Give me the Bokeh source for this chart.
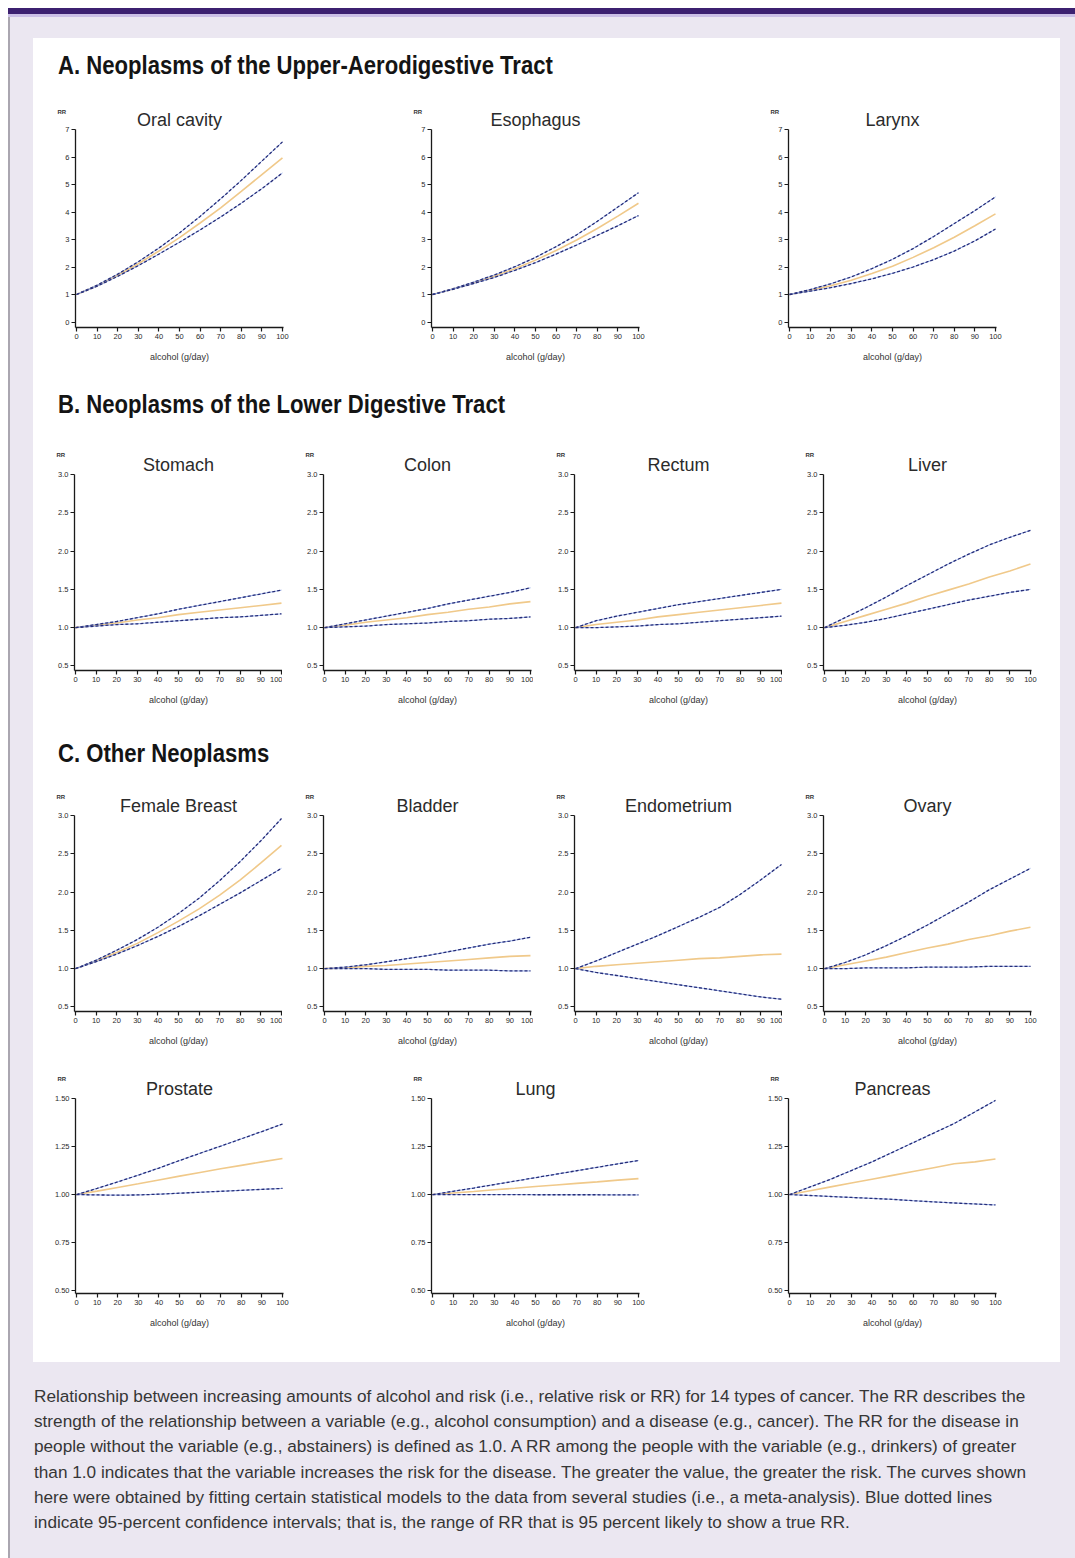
from bokeh.plotting import figure
from bokeh.models import Div, Spacer, FixedTicker, Range1d, PrintfTickFormatter, Title
from bokeh.layouts import column, row
from bokeh.embed import file_html
from bokeh.resources import INLINE

# ---------------- data ----------------
X = [0, 10, 20, 30, 40, 50, 60, 70, 80, 90, 100]
X_TICKS = [0, 10, 20, 30, 40, 50, 60, 70, 80, 90, 100]

# Upper-aerodigestive tract
oral_mid = [1.0, 1.32, 1.70, 2.12, 2.58, 3.07, 3.60, 4.15, 4.75, 5.36, 5.97]
oral_lo  = [1.0, 1.30, 1.66, 2.05, 2.47, 2.90, 3.35, 3.82, 4.32, 4.85, 5.42]
oral_hi  = [1.0, 1.34, 1.74, 2.19, 2.69, 3.24, 3.84, 4.48, 5.15, 5.85, 6.55]

eso_mid = [1.0, 1.20, 1.42, 1.66, 1.94, 2.25, 2.60, 2.98, 3.40, 3.85, 4.32]
eso_lo  = [1.0, 1.19, 1.40, 1.62, 1.88, 2.16, 2.47, 2.80, 3.15, 3.50, 3.87]
eso_hi  = [1.0, 1.21, 1.45, 1.71, 2.01, 2.35, 2.74, 3.17, 3.66, 4.18, 4.70]

lar_mid = [1.0, 1.15, 1.32, 1.52, 1.76, 2.03, 2.35, 2.70, 3.08, 3.50, 3.93]
lar_lo  = [1.0, 1.12, 1.25, 1.40, 1.57, 1.77, 2.00, 2.27, 2.58, 2.95, 3.38]
lar_hi  = [1.0, 1.18, 1.39, 1.64, 1.94, 2.28, 2.67, 3.11, 3.58, 4.05, 4.55]

# Lower digestive tract
sto_mid = [1.0, 1.03, 1.06, 1.10, 1.13, 1.17, 1.20, 1.23, 1.26, 1.29, 1.32]
sto_lo  = [1.0, 1.02, 1.04, 1.05, 1.07, 1.09, 1.11, 1.13, 1.14, 1.16, 1.18]
sto_hi  = [1.0, 1.04, 1.08, 1.13, 1.18, 1.24, 1.29, 1.34, 1.39, 1.44, 1.49]

col_mid = [1.0, 1.03, 1.07, 1.10, 1.13, 1.17, 1.20, 1.24, 1.27, 1.31, 1.34]
col_lo  = [1.0, 1.01, 1.02, 1.04, 1.05, 1.06, 1.08, 1.09, 1.11, 1.12, 1.14]
col_hi  = [1.0, 1.05, 1.10, 1.15, 1.20, 1.25, 1.31, 1.36, 1.41, 1.46, 1.52]

rec_mid = [1.0, 1.04, 1.07, 1.10, 1.14, 1.17, 1.20, 1.23, 1.26, 1.29, 1.32]
rec_lo  = [1.0, 1.00, 1.01, 1.02, 1.04, 1.05, 1.07, 1.09, 1.11, 1.13, 1.15]
rec_hi  = [1.0, 1.09, 1.15, 1.20, 1.25, 1.30, 1.34, 1.38, 1.42, 1.46, 1.50]

liv_mid = [1.0, 1.08, 1.16, 1.24, 1.32, 1.41, 1.49, 1.57, 1.66, 1.74, 1.83]
liv_lo  = [1.0, 1.03, 1.07, 1.12, 1.18, 1.24, 1.30, 1.36, 1.41, 1.46, 1.50]
liv_hi  = [1.0, 1.13, 1.26, 1.40, 1.55, 1.69, 1.83, 1.96, 2.08, 2.18, 2.27]

# Other neoplasms
bre_mid = [1.0, 1.10, 1.21, 1.33, 1.47, 1.62, 1.78, 1.96, 2.16, 2.38, 2.61]
bre_lo  = [1.0, 1.09, 1.19, 1.30, 1.42, 1.55, 1.69, 1.84, 1.99, 2.15, 2.31]
bre_hi  = [1.0, 1.11, 1.24, 1.38, 1.54, 1.72, 1.92, 2.15, 2.40, 2.67, 2.96]

bla_mid = [1.0, 1.01, 1.03, 1.04, 1.06, 1.08, 1.10, 1.12, 1.14, 1.16, 1.17]
bla_lo  = [1.0, 1.00, 1.00, 0.99, 0.99, 0.99, 0.98, 0.98, 0.98, 0.97, 0.97]
bla_hi  = [1.0, 1.02, 1.05, 1.09, 1.13, 1.17, 1.22, 1.27, 1.32, 1.36, 1.41]

end_mid = [1.0, 1.03, 1.05, 1.07, 1.09, 1.11, 1.13, 1.14, 1.16, 1.18, 1.19]
end_lo  = [1.0, 0.95, 0.91, 0.87, 0.83, 0.79, 0.75, 0.71, 0.67, 0.63, 0.60]
end_hi  = [1.0, 1.10, 1.21, 1.32, 1.43, 1.55, 1.67, 1.80, 1.97, 2.16, 2.36]

ova_mid = [1.0, 1.05, 1.10, 1.15, 1.21, 1.27, 1.32, 1.38, 1.43, 1.49, 1.54]
ova_lo  = [1.0, 1.00, 1.01, 1.01, 1.01, 1.02, 1.02, 1.02, 1.03, 1.03, 1.03]
ova_hi  = [1.0, 1.08, 1.18, 1.30, 1.43, 1.57, 1.72, 1.87, 2.03, 2.17, 2.31]

pro_mid = [1.0, 1.018, 1.037, 1.056, 1.076, 1.096, 1.115, 1.134, 1.152, 1.170, 1.188]
pro_lo  = [1.0, 0.998, 0.997, 0.998, 1.002, 1.007, 1.012, 1.017, 1.022, 1.027, 1.032]
pro_hi  = [1.0, 1.032, 1.066, 1.101, 1.138, 1.177, 1.215, 1.252, 1.290, 1.328, 1.367]

lun_mid = [1.0, 1.008, 1.016, 1.025, 1.033, 1.042, 1.050, 1.058, 1.066, 1.075, 1.083]
lun_lo  = [1.0, 1.000, 1.000, 1.000, 1.000, 0.999, 0.999, 0.999, 0.999, 0.998, 0.998]
lun_hi  = [1.0, 1.017, 1.034, 1.052, 1.070, 1.088, 1.106, 1.124, 1.142, 1.160, 1.177]

pan_mid = [1.0, 1.02, 1.04, 1.06, 1.08, 1.10, 1.12, 1.14, 1.16, 1.17, 1.185]
pan_lo  = [1.0, 0.995, 0.99, 0.985, 0.98, 0.975, 0.968, 0.962, 0.956, 0.951, 0.946]
pan_hi  = [1.0, 1.04, 1.08, 1.125, 1.17, 1.22, 1.27, 1.32, 1.37, 1.43, 1.49]

Y_TICKS_A = [0, 1, 2, 3, 4, 5, 6, 7]
Y_TICKS_BC = [0.5, 1.0, 1.5, 2.0, 2.5, 3.0]
Y_TICKS_D = [0.50, 0.75, 1.00, 1.25, 1.50]

SECTION_TITLES = ["A. Neoplasms of the Upper-Aerodigestive Tract",
                  "B. Neoplasms of the Lower Digestive Tract",
                  "C. Other Neoplasms"]

CAPTION_LINES = [
    "Relationship between increasing amounts of alcohol and risk (i.e., relative risk or RR) for 14 types of cancer. The RR describes the",
    "strength of the relationship between a variable (e.g., alcohol consumption) and a disease (e.g., cancer). The RR for the disease in",
    "people without the variable (e.g., abstainers) is defined as 1.0. A RR among the people with the variable (e.g., drinkers) of greater",
    "than 1.0 indicates that the variable increases the risk for the disease. The greater the value, the greater the risk. The curves shown",
    "here were obtained by fitting certain statistical models to the data from several studies (i.e., a meta-analysis). Blue dotted lines",
    "indicate 95-percent confidence intervals; that is, the range of RR that is 95 percent likely to show a true RR.",
]

# ---------------- style ----------------
FONT = "Liberation Sans"
LAV = "#ebe7f1"
MID_COLOR = "#f0c98a"
CI_LIGHT = "#8ea6e6"
CI_DARK = "#262d78"
FRAME_W = 208
X_RANGE = (-0.5, 100.5)


def panel(name, lo, mid, hi, yticks, fmt, yr, width, height, bl, bt, frame_h, rr_standoff):
    bb = height - bt - frame_h
    br = width - bl - FRAME_W
    p = figure(width=width, height=height, x_range=Range1d(*X_RANGE), y_range=Range1d(*yr),
               output_backend="svg", toolbar_location=None, title=None,
               min_border_left=bl, min_border_right=br, min_border_top=bt, min_border_bottom=bb)
    p.background_fill_color = "white"
    p.border_fill_color = "white"
    p.outline_line_color = None
    p.xgrid.visible = False
    p.ygrid.visible = False

    main_title = Title(text=name, align="center", text_font=FONT, text_font_size="18px",
                       text_font_style="normal", text_color="#2b2b2b", standoff=0, offset=0)
    rr_title = Title(text="RR", align="left", text_font=FONT, text_font_size="6px",
                     text_font_style="bold", text_color="#333333", standoff=rr_standoff, offset=-18)
    p.add_layout(main_title, "above")
    p.add_layout(rr_title, "above")

    for ax in (p.xaxis[0], p.yaxis[0]):
        ax.axis_line_color = "#1a1a1a"
        ax.axis_line_width = 1.3
        ax.major_tick_line_color = "#1a1a1a"
        ax.major_tick_line_width = 1.2
        ax.major_tick_out = 4
        ax.major_tick_in = 0
        ax.minor_tick_out = 0
        ax.minor_tick_in = 0
        ax.major_label_text_font = FONT
        ax.major_label_text_font_size = "7.5px"
        ax.major_label_text_color = "#2a2a2a"
        ax.major_label_standoff = 2

    p.xaxis.ticker = FixedTicker(ticks=X_TICKS)
    p.xaxis.axis_label = "alcohol (g/day)"
    p.xaxis.axis_label_text_font = FONT
    p.xaxis.axis_label_text_font_size = "9px"
    p.xaxis.axis_label_text_font_style = "normal"
    p.xaxis.axis_label_text_color = "#333333"
    p.xaxis.axis_label_standoff = 10

    p.yaxis.ticker = FixedTicker(ticks=yticks)
    p.yaxis.formatter = PrintfTickFormatter(format=fmt)

    p.line(X, mid, line_color=MID_COLOR, line_width=1.6)
    for s in (hi, lo):
        p.line(X, s, line_color=CI_LIGHT, line_width=1.0, line_alpha=0.9)
        p.line(X, s, line_color=CI_DARK, line_width=1.3, line_dash="3 2")
    return p


def header(txt, h, top):
    html = ('<div style="padding-top:%dpx;padding-left:25px;white-space:nowrap;">'
            '<span style="display:inline-block;font-family:\'%s\',Arial,sans-serif;font-weight:bold;'
            'font-size:26px;line-height:30px;color:#141414;transform:scaleX(0.85);transform-origin:0 0;">%s</span></div>'
            % (top, FONT, txt))
    return Div(text=html, width=1027, height=h, margin=0)


def block(w, h, color):
    return Div(text="", width=w, height=h, margin=0, styles={"background-color": color})


WA = [356, 357, 314]
WB = [249, 251, 249, 278]

rowA = row(
    panel("Oral cavity", oral_lo, oral_mid, oral_hi, Y_TICKS_A, "%d", (-0.2, 7.0), WA[0], 280, 42, 34, 198, -14),
    panel("Esophagus", eso_lo, eso_mid, eso_hi, Y_TICKS_A, "%d", (-0.2, 7.0), WA[1], 280, 42, 34, 198, -14),
    panel("Larynx", lar_lo, lar_mid, lar_hi, Y_TICKS_A, "%d", (-0.2, 7.0), WA[2], 280, 42, 34, 198, -14),
)
rowB = row(
    panel("Stomach", sto_lo, sto_mid, sto_hi, Y_TICKS_BC, "%.1f", (0.44, 3.0), WB[0], 280, 41, 34, 196, -11),
    panel("Colon", col_lo, col_mid, col_hi, Y_TICKS_BC, "%.1f", (0.44, 3.0), WB[1], 280, 41, 34, 196, -11),
    panel("Rectum", rec_lo, rec_mid, rec_hi, Y_TICKS_BC, "%.1f", (0.44, 3.0), WB[2], 280, 41, 34, 196, -11),
    panel("Liver", liv_lo, liv_mid, liv_hi, Y_TICKS_BC, "%.1f", (0.44, 3.0), WB[3], 280, 41, 34, 196, -11),
)
rowC = row(
    panel("Female Breast", bre_lo, bre_mid, bre_hi, Y_TICKS_BC, "%.1f", (0.44, 3.0), WB[0], 277, 41, 30, 196, -12),
    panel("Bladder", bla_lo, bla_mid, bla_hi, Y_TICKS_BC, "%.1f", (0.44, 3.0), WB[1], 277, 41, 30, 196, -12),
    panel("Endometrium", end_lo, end_mid, end_hi, Y_TICKS_BC, "%.1f", (0.44, 3.0), WB[2], 277, 41, 30, 196, -12),
    panel("Ovary", ova_lo, ova_mid, ova_hi, Y_TICKS_BC, "%.1f", (0.44, 3.0), WB[3], 277, 41, 30, 196, -12),
)
rowD = row(
    panel("Prostate", pro_lo, pro_mid, pro_hi, Y_TICKS_D, "%.2f", (0.485, 1.5), WA[0], 300, 42, 36, 195, -11),
    panel("Lung", lun_lo, lun_mid, lun_hi, Y_TICKS_D, "%.2f", (0.485, 1.5), WA[1], 300, 42, 36, 195, -11),
    panel("Pancreas", pan_lo, pan_mid, pan_hi, Y_TICKS_D, "%.2f", (0.485, 1.5), WA[2], 300, 42, 36, 195, -11),
)

white = column(header(SECTION_TITLES[0], 57, 12), rowA,
               header(SECTION_TITLES[1], 65, 14), rowB,
               header(SECTION_TITLES[2], 65, 18), rowC, rowD,
               width=1027, height=1324, styles={"background-color": "white"})

caption_html = ('<div style="padding-top:22px;padding-left:24px;white-space:nowrap;font-family:\'%s\',Arial,sans-serif;'
                'font-size:17.2px;line-height:25.2px;color:#363636;">%s</div>' % (FONT, "<br>".join(CAPTION_LINES)))
caption = Div(text=caption_html, width=1065, height=196, margin=0)

inner = column(Spacer(width=1065, height=21),
               row(Spacer(width=23, height=1324), white, Spacer(width=15, height=1324)),
               caption, width=1065, height=1541)

content = column(
    block(1067, 6, "#3c2070"),
    block(1067, 3, "#cbbfe6"),
    row(block(2, 1541, "#aaa6b0"), inner),
    width=1067, height=1550, styles={"background-color": LAV},
)

page = row(Spacer(width=8, height=1558),
           column(Spacer(width=1067, height=8), content, width=1067, height=1558),
           width=1075, height=1558)

open("out.html", "w").write(file_html(page, INLINE))
